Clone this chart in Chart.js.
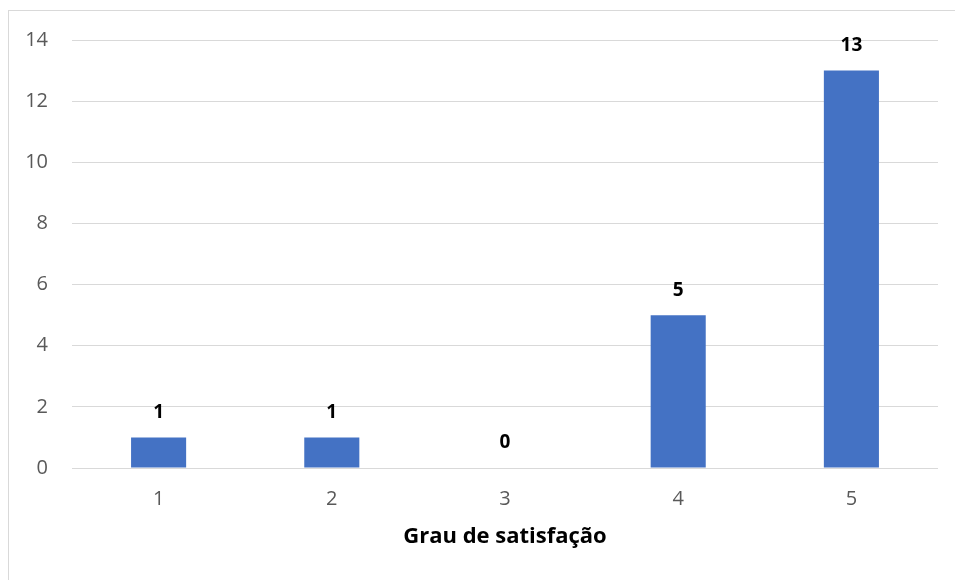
<!DOCTYPE html>
<html>
<head>
<meta charset="utf-8">
<script src="https://cdn.jsdelivr.net/npm/chart.js@4/dist/chart.umd.min.js"></script>
<style>
  html, body { margin: 0; padding: 0; background: #ffffff; }
  #wrap { width: 955px; height: 580px; position: relative; }
</style>
</head>
<body>
<div id="wrap"><canvas id="c" width="955" height="580"></canvas></div>
<script>
// Grau de satisfação (1–5) e número de respostas
const categories = ['1', '2', '3', '4', '5'];
const counts = [1, 1, 0, 5, 13];
const yTicks = [0, 2, 4, 6, 8, 10, 12, 14];
const axisTitle = 'Grau de satisfação';

const FONT = '"Open Sans", Lato, sans-serif';

// thin frame around the chart area
const framePlugin = {
  id: 'frame',
  beforeDraw(chart) {
    const ctx = chart.ctx;
    ctx.save();
    ctx.strokeStyle = '#d9d9d9';
    ctx.lineWidth = 1;
    ctx.strokeRect(8.5, 10.5, 960, 600);
    ctx.restore();
  }
};

// value labels above each bar
const valueLabels = {
  id: 'valueLabels',
  afterDatasetsDraw(chart) {
    const ctx = chart.ctx;
    const meta = chart.getDatasetMeta(0);
    ctx.save();
    ctx.font = 'bold 19px ' + FONT;
    ctx.fillStyle = '#000000';
    ctx.textAlign = 'center';
    ctx.textBaseline = 'middle';
    meta.data.forEach((bar, i) => {
      ctx.fillText(String(counts[i]), bar.x, bar.y - 25);
    });
    ctx.restore();
  }
};

new Chart(document.getElementById('c'), {
  type: 'bar',
  data: {
    labels: categories,
    datasets: [{
      data: counts,
      backgroundColor: '#4472C4',
      borderWidth: 0,
      barPercentage: 0.318,
      categoryPercentage: 1.0
    }]
  },
  options: {
    responsive: false,
    animation: false,
    layout: { padding: { left: 10, right: 17, top: 40, bottom: 30 } },
    plugins: { legend: { display: false }, tooltip: { enabled: false } },
    scales: {
      x: {
        grid: { display: false, drawTicks: false },
        border: { display: false },
        ticks: { color: '#595959', font: { family: FONT, size: 20 }, padding: 19 },
        title: {
          display: true,
          text: axisTitle,
          color: '#000000',
          font: { family: FONT, size: 22, weight: 'bold' },
          padding: { top: 8, bottom: 0 }
        },
        afterFit(s) { s.height = 82; }
      },
      y: {
        min: 0,
        max: 14,
        afterBuildTicks(s) { s.ticks = yTicks.map(v => ({ value: v })); },
        grid: { color: '#d9d9d9', lineWidth: 1, drawTicks: false },
        border: { display: false },
        ticks: { color: '#595959', font: { family: FONT, size: 20 }, padding: 24 },
        afterFit(s) { s.width = 62; }
      }
    }
  },
  plugins: [framePlugin, valueLabels]
});
</script>
</body>
</html>
